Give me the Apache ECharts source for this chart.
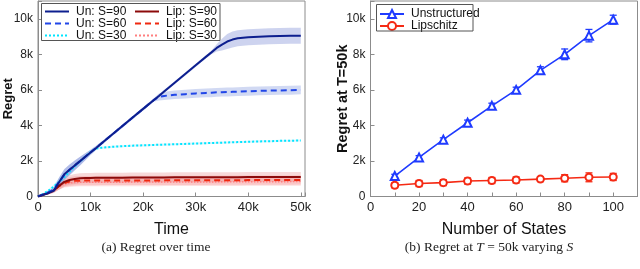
<!DOCTYPE html>
<html><head><meta charset="utf-8">
<script src="https://cdn.jsdelivr.net/npm/echarts@6/dist/echarts.min.js"></script>
<style>html,body{margin:0;padding:0;background:#fff}#c{width:640px;height:269px}</style>
</head><body><div id="c"></div>
<script>
// ---- Panel (a): regret over time ----
const time = [0,1000,2000,3000,4000,5000,6000,7000,8000,9000,10000,11000,12000,14000,16000,18000,20000,22000,23000,24000,26000,28000,30000,32000,33000,34000,35000,36000,37000,38000,40000,42000,44000,46000,48000,50000];
const un90 = [0,100,200,330,800,1250,1500,1750,1990,2240,2480,2720,2970,3460,3950,4440,4930,5420,5660,5910,6400,6890,7380,7870,8110,8360,8550,8720,8830,8900,8960,8990,9010,9030,9040,9050];
const un60 = [0,120,240,400,820,1220,1500,1750,1990,2240,2480,2720,2970,3460,3950,4440,4930,5420,5600,5660,5720,5760,5800,5830,5840,5860,5870,5880,5890,5900,5920,5940,5960,5970,5980,6000];
const un30 = [0,150,330,560,820,1100,1400,1700,1980,2250,2500,2700,2740,2790,2830,2860,2880,2900,2910,2920,2940,2960,2980,3000,3010,3020,3030,3040,3050,3060,3080,3100,3110,3130,3140,3150];
const lip90 = [0,100,200,330,600,820,930,990,1030,1040,1045,1050,1050,1055,1060,1065,1070,1072,1074,1075,1078,1080,1082,1084,1085,1086,1087,1088,1089,1090,1092,1094,1096,1097,1098,1100];
const lip60 = [0,100,200,330,580,760,840,880,890,895,900,900,901,902,903,904,905,906,907,908,909,910,912,914,915,916,917,918,919,920,922,924,926,927,928,930];
const lip30 = [0,110,220,360,560,700,760,790,800,802,804,805,806,807,808,810,811,812,813,814,815,817,819,821,822,823,824,825,826,827,829,831,833,835,837,840];
// half-widths of the shaded bands
const un90Band = [0,40,80,120,250,300,300,280,250,200,150,120,100,90,90,90,90,90,90,90,90,90,90,90,100,200,330,420,450,450,450,450,450,450,450,450];
const un60Band = [0,40,80,120,250,300,300,280,250,200,150,120,100,90,90,90,90,90,200,230,240,250,250,250,250,250,250,250,250,250,250,250,250,250,250,250];
const un30Band = [0,40,80,120,200,200,180,150,120,100,80,60,60,60,60,60,60,60,60,60,60,60,60,60,60,60,60,60,60,60,60,60,60,60,60,60];
const lip90Band = [0,40,80,120,200,250,270,280,280,280,280,280,280,280,280,280,280,280,280,280,280,280,280,280,280,280,280,280,280,280,280,280,280,280,280,280];
const lip60Band = [0,40,80,120,200,230,250,260,260,260,260,260,260,260,260,260,260,260,260,260,260,260,260,260,260,260,260,260,260,260,260,260,260,260,260,260];
const lip30Band = [0,40,80,120,180,200,220,230,230,230,230,230,230,230,230,230,230,230,230,230,230,230,230,230,230,230,230,230,230,230,230,230,230,230,230,230];
const timeTicks = ['0','10k','20k','30k','40k','50k'];

// ---- Panel (b): regret at T=50k ----
const states = [10,20,30,40,50,60,70,80,90,100];
const unstructured = [1150,2200,3200,4150,5100,6000,7100,8000,9050,9950];
const unstructuredErr = [100,100,100,150,150,150,200,300,350,250];
const lipschitz = [630,730,780,870,900,930,980,1030,1080,1100];
const lipschitzErr = [140,170,170,170,170,170,140,200,250,200];

const FONT = 'Liberation Sans';
const AX = '#8c8c8c';

function pairs(ys){ return time.map((t,i)=>[t, ys[i]]); }

function bandSeries(vals, hw, color){
  return {
    type:'custom', xAxisIndex:0, yAxisIndex:0, silent:true, clip:true, z:1,
    data:[[0,0]],
    renderItem(params, api){
      const pts = [];
      for (let i=0;i<time.length;i++) pts.push(api.coord([time[i], vals[i]+hw[i]]));
      for (let i=time.length-1;i>=0;i--) pts.push(api.coord([time[i], Math.max(0, vals[i]-hw[i])]));
      return {type:'polygon', shape:{points:pts}, style:{fill:color}};
    }
  };
}
function lineSeries(name, vals, color, type, width, z){
  return {name, type:'line', xAxisIndex:0, yAxisIndex:0, data:pairs(vals), symbol:'none', z:z||3,
    lineStyle:{color, width, type}, itemStyle:{color}, animation:false};
}
function errSeries(xs, ys, es, color){
  return {
    type:'custom', xAxisIndex:1, yAxisIndex:1, silent:true, z:3,
    data: xs.map((x,i)=>[x, ys[i]-es[i], ys[i]+es[i]]),
    encode:{x:0, y:[1,2]},
    renderItem(params, api){
      const x = api.value(0);
      const a = api.coord([x, api.value(1)]), b = api.coord([x, api.value(2)]);
      const w = 3.5;
      const st = {stroke:color, lineWidth:1.3};
      return {type:'group', children:[
        {type:'line', shape:{x1:a[0],y1:a[1],x2:b[0],y2:b[1]}, style:st},
        {type:'line', shape:{x1:a[0]-w,y1:a[1],x2:a[0]+w,y2:a[1]}, style:st},
        {type:'line', shape:{x1:b[0]-w,y1:b[1],x2:b[0]+w,y2:b[1]}, style:st}
      ]};
    }
  };
}
function kfmt(v){ return v===0 ? '0' : (v/1000)+'k'; }

const commonY = (gi, name, gap, fs) => ({
  type:'value', gridIndex:gi, min:0, max:11000, interval:2000,
  name, nameLocation:'middle', nameRotate:90, nameGap:gap, nameMoveOverlap:false,
  nameTextStyle:{fontFamily:FONT, fontSize:fs, fontWeight:'bold', color:'#111'},
  axisLine:{show:true, lineStyle:{color:AX}},
  axisTick:{show:true, inside:true, length:4, lineStyle:{color:AX}},
  splitLine:{show:false},
  axisLabel:{fontFamily:FONT, fontSize:12, color:'#222', margin:5,
    formatter:v => (v%2000===0 && v<=10000) ? kfmt(v) : ''}
});
const legendBase = {orient:'vertical', itemGap:0, itemWidth:24, itemHeight:10, padding:0,
  textStyle:{fontFamily:FONT, fontSize:12, color:'#111', lineHeight:11, padding:[0,0,0,2]}};

const chart = echarts.init(document.getElementById('c'), null, {renderer:'canvas'});
chart.setOption({
  animation:false,
  backgroundColor:'#fff',
  grid:[
    {left:38, top:1, width:267, height:195.5, show:true, borderColor:AX, borderWidth:1, backgroundColor:'transparent', outerBoundsMode:'none', containLabel:false},
    {left:370.5, top:1, width:267, height:195.5, show:true, borderColor:AX, borderWidth:1, backgroundColor:'transparent', outerBoundsMode:'none', containLabel:false}
  ],
  xAxis:[
    {type:'value', gridIndex:0, min:0, max:50800, interval:10000,
     name:'Time', nameLocation:'middle', nameGap:25, nameMoveOverlap:false,
     nameTextStyle:{fontFamily:FONT, fontSize:16, color:'#111'},
     axisLine:{show:true, lineStyle:{color:AX}},
     axisTick:{show:true, inside:true, length:4, lineStyle:{color:AX}},
     splitLine:{show:false},
     axisLabel:{fontFamily:FONT, fontSize:13, color:'#222', margin:4, showMaxLabel:true,
       formatter:v => (v%10000===0) ? timeTicks[v/10000] : ''}},
    {type:'value', gridIndex:1, min:0, max:110, interval:10,
     name:'Number of States', nameLocation:'middle', nameGap:25, nameMoveOverlap:false,
     nameTextStyle:{fontFamily:FONT, fontSize:16, color:'#111'},
     axisLine:{show:true, lineStyle:{color:AX}},
     axisTick:{show:true, inside:true, length:4, lineStyle:{color:AX}},
     splitLine:{show:false},
     axisLabel:{fontFamily:FONT, fontSize:13, color:'#222', margin:4,
       formatter:v => (v%20===0 && v<=100) ? String(v) : ''}}
  ],
  yAxis:[ commonY(0,'Regret',23,13), commonY(1,'Regret at T=50k',20,14.5) ],
  legend:[
    Object.assign({left:44, top:5.5, itemStyle:{opacity:0}, data:['Un: S=90','Un: S=60','Un: S=30']}, legendBase),
    Object.assign({left:134, top:5.5, itemStyle:{opacity:0}, data:['Lip: S=90','Lip: S=60','Lip: S=30']}, legendBase),
    Object.assign({left:379, top:8, data:['Unstructured','Lipschitz']}, legendBase)
  ],
  graphic:[
    {type:'rect', shape:{x:41.5, y:3.5, width:178.5, height:37}, style:{fill:'none', stroke:'#555', lineWidth:1}, z:10},
    {type:'rect', shape:{x:376.5, y:4.5, width:96.5, height:26.5}, style:{fill:'none', stroke:'#555', lineWidth:1}, z:10},
    {type:'text', x:156, y:247, style:{text:'(a) Regret over time', fontFamily:'Liberation Serif', fontSize:13.5, fill:'#222', align:'center', verticalAlign:'middle'}},
    {type:'text', x:489, y:247, style:{
      text:'(b) Regret at {i|T} = 50k varying {i|S}',
      rich:{i:{fontStyle:'italic', fontFamily:'Liberation Serif', fontSize:13.5, fill:'#222'}},
      fontFamily:'Liberation Serif', fontSize:13.5, fill:'#222', align:'center', verticalAlign:'middle'}}
  ],
  series:[
    bandSeries(lip30, lip30Band, 'rgba(250,170,170,0.35)'),
    bandSeries(lip60, lip60Band, 'rgba(245,140,140,0.30)'),
    bandSeries(lip90, lip90Band, 'rgba(230,130,130,0.30)'),
    bandSeries(un30, un30Band, 'rgba(150,230,250,0.35)'),
    bandSeries(un60, un60Band, 'rgba(140,160,225,0.40)'),
    bandSeries(un90, un90Band, 'rgba(130,145,215,0.40)'),
    lineSeries('Lip: S=30', lip30, '#ff7f7f', 'dotted', 1.5, 3),
    lineSeries('Lip: S=60', lip60, '#f0280f', [6,4], 2, 4),
    lineSeries('Lip: S=90', lip90, '#8c0a0a', 'solid', 2, 5),
    lineSeries('Un: S=30', un30, '#00e5ff', 'dotted', 2, 6),
    lineSeries('Un: S=60', un60, '#2146e8', [6,4], 2, 7),
    lineSeries('Un: S=90', un90, '#0d1f8f', 'solid', 2, 8),
    errSeries(states, unstructured, unstructuredErr, '#1f3bff'),
    errSeries(states, lipschitz, lipschitzErr, '#f52a14'),
    {name:'Unstructured', type:'line', xAxisIndex:1, yAxisIndex:1, data:states.map((s,i)=>[s, unstructured[i]]),
     symbol:'emptyTriangle', symbolSize:8, lineStyle:{color:'#1f3bff', width:1.6}, itemStyle:{color:'#1f3bff', borderWidth:1.5}, z:4},
    {name:'Lipschitz', type:'line', xAxisIndex:1, yAxisIndex:1, data:states.map((s,i)=>[s, lipschitz[i]]),
     symbol:'emptyCircle', symbolSize:7, lineStyle:{color:'#f52a14', width:1.6}, itemStyle:{color:'#f52a14', borderWidth:1.5}, z:4}
  ]
});
</script></body></html>
